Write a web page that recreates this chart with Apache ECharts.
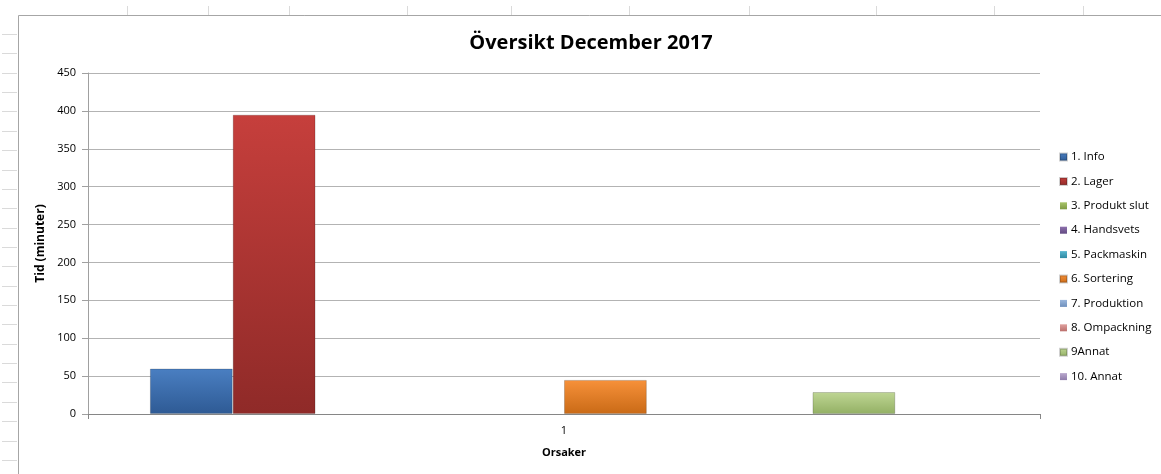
<!DOCTYPE html>
<html><head><meta charset="utf-8">
<script src="https://cdn.jsdelivr.net/npm/echarts@6/dist/echarts.min.js"></script>
<style>html,body{margin:0;padding:0;background:#fff;}#c{width:1161px;height:474px;}</style>
</head><body><div id="c"></div>
<script>
const categories = ['1'];
const seriesNames = ['1. Info','2. Lager','3. Produkt slut','4. Handsvets','5. Packmaskin','6. Sortering','7. Produktion','8. Ompackning','9Annat','10. Annat'];
const seriesValues = [60, 395, 0, 0, 0, 45, 0, 0, 29, 0];
const yTicks = {min: 0, max: 450, interval: 50};
const colorsTop = ['#4a7fc2','#c63f3c','#a8c46a','#8d70ad','#58b6cf','#f7913a','#9bb7dc','#dfa19f','#bfd694','#b9a8cd'];
const colorsBottom = ['#2e5a94','#8f2a28','#7f9a43','#624a82','#2f8aa2','#c96a16','#6f90bd','#bb6f6c','#93b064','#8f7caa'];

const chart = echarts.init(document.getElementById('c'), null, {renderer:'canvas'});
const font = '"Open Sans", "Noto Sans", sans-serif';

// spreadsheet background decoration
const deco = [];
const topSeps = [127,208,289,407,511,629,749,876,994,1083];
topSeps.forEach(x => deco.push({type:'line', shape:{x1:x+0.5,y1:6,x2:x+0.5,y2:15}, style:{stroke:'#dadada', lineWidth:1}, silent:true}));
for (let i = 0; i <= 22; i++) {
  const y = Math.round(34 + i*19.36) + 0.5;
  deco.push({type:'line', shape:{x1:2,y1:y,x2:17,y2:y}, style:{stroke:'#dadada', lineWidth:1}, silent:true});
}
deco.push({type:'line', shape:{x1:18.5,y1:15.5,x2:1161,y2:15.5}, style:{stroke:'#a6a6a6', lineWidth:1}, silent:true});
deco.push({type:'line', shape:{x1:18.5,y1:15.5,x2:18.5,y2:474}, style:{stroke:'#a6a6a6', lineWidth:1}, silent:true});

chart.setOption({
  animation: false,
  backgroundColor: '#fff',
  graphic: deco,
  title: {
    text: 'Översikt December 2017',
    left: 586, top: 28, textAlign: 'center',
    textStyle: {fontFamily: font, fontSize: 20, fontWeight: 'bold', color: '#000'}
  },
  legend: {
    orient: 'vertical', left: 1059, top: 150, padding: 0,
    itemWidth: 7, itemHeight: 7, itemGap: 10.4,
    icon: 'rect',
    data: seriesNames,
    textStyle: {fontFamily: font, fontSize: 11.5, color: '#000', lineHeight: 14, padding:[0,0,0,-1]}
  },
  grid: {left: 88, right: 121, top: 73, bottom: 60, containLabel: false},
  xAxis: {
    type: 'category', data: categories,
    name: 'Orsaker', nameLocation: 'middle', nameGap: 33,
    nameTextStyle: {fontFamily: font, fontSize: 11, fontWeight: 'bold', color: '#000'},
    axisLine: {lineStyle: {color: '#868686'}},
    axisTick: {show: true, length: 5, lineStyle: {color: '#868686'}},
    axisLabel: {fontFamily: font, fontSize: 11, color: '#000', margin: 11}
  },
  yAxis: {
    type: 'value', min: yTicks.min, max: yTicks.max, interval: yTicks.interval,
    name: 'Tid (minuter)', nameLocation: 'middle', nameGap: 39, nameRotate: 90,
    nameTextStyle: {fontFamily: font, fontSize: 12, fontWeight: 'bold', color: '#000'},
    axisLine: {show: true, lineStyle: {color: '#a0a0a0'}},
    axisTick: {show: true, length: 6, lineStyle: {color: '#a0a0a0'}},
    axisLabel: {fontFamily: font, fontSize: 11, color: '#000', margin: 12},
    splitLine: {lineStyle: {color: '#b3b3b3'}}
  },
  series: seriesNames.map((n, i) => ({
    name: n, type: 'bar',
    data: [seriesValues[i]],
    barGap: '0%', barCategoryGap: '13%',
    itemStyle: {
      color: new echarts.graphic.LinearGradient(0,0,0,1,[{offset:0,color:colorsTop[i]},{offset:1,color:colorsBottom[i]}]),
      borderColor: 'rgba(0,0,0,0.18)', borderWidth: seriesValues[i] > 0 ? 1 : 0
    }
  }))
});
</script></body></html>
